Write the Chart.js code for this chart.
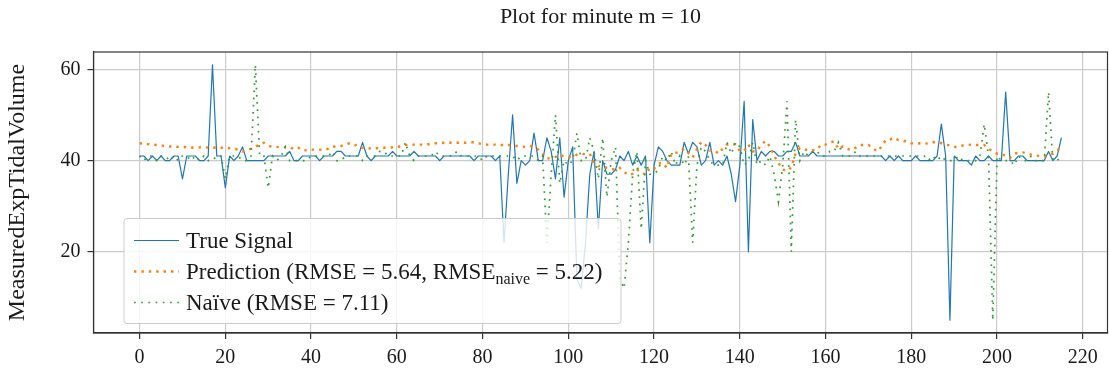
<!DOCTYPE html>
<html>
<head>
<meta charset="utf-8">
<script src="https://cdn.jsdelivr.net/npm/chart.js@4.4.1/dist/chart.umd.min.js"></script>
<style>
  html, body { margin: 0; padding: 0; background: #ffffff; }
  #wrap { width: 1109px; height: 378px; }
</style>
</head>
<body>
<div id="wrap"><canvas id="c" width="1109" height="378"></canvas></div>
<script>
// Measured expiratory tidal volume, one value per minute index
const trueSignal = [
  41, 41, 40, 41, 40, 41, 40, 40, 41, 41,
  36, 41, 41, 41, 40, 40, 41, 61, 41, 41,
  34, 41, 40, 41, 43, 40, 40, 40, 40, 40,
  41, 41, 41, 41, 41, 42, 40, 40, 41, 41,
  41, 41, 40, 41, 41, 41, 42, 42, 41, 41,
  41, 41, 44, 41, 40, 41, 41, 41, 41, 42,
  41, 41, 41, 41, 42, 41, 41, 41, 41, 41,
  40, 41, 41, 41, 41, 41, 41, 41, 40, 41,
  41, 41, 41, 40, 41, 22, 37, 50, 35, 40,
  39, 40, 46, 40, 40, 45, 42, 36, 45, 32,
  40, 43, 14, 12, 22, 37, 42, 25, 40, 37,
  37, 38, 41, 40, 42, 39, 41, 39, 41, 22,
  39, 43, 42, 40, 39, 39, 39, 44, 41.5, 44,
  43, 39, 40, 44, 39, 40, 39, 41, 37, 31,
  39, 53, 20, 49, 40, 42, 41, 42, 42, 41,
  41, 42, 42, 44, 41, 41, 41, 42, 41, 41,
  41, 41, 41, 41, 41, 41, 41, 41, 41, 41,
  41, 41, 41, 41, 40, 41, 40, 41, 40, 40,
  40, 41, 40, 40, 40, 40, 41, 48, 41, 5,
  41, 40, 40, 40, 39, 41, 40, 40, 41, 40,
  40, 40, 55, 40, 40, 41, 41, 40, 40, 40,
  40, 40, 42, 40, 41, 45
];

// Model forecast
const prediction = [
  43.8, 43.7, 43.6, 43.5, 43.4, 43.3, 43.2, 43.1, 43.1, 43.0,
  43.0, 42.9, 42.8, 42.9, 42.9, 42.8, 42.9, 42.8, 42.9, 42.8,
  42.9, 42.7, 42.6, 42.4, 42.0, 42.3, 42.6, 43.0, 43.6, 43.9,
  43.3, 43.0, 43.0, 42.9, 42.9, 43.0, 42.5, 42.8, 42.2, 42.3,
  42.4, 42.4, 42.4, 42.3, 42.6, 43.1, 43.0, 43.2, 43.5, 43.8,
  43.6, 43.0, 42.8, 42.8, 42.6, 42.7, 42.8, 42.8, 42.8, 42.9,
  42.9, 43.2, 43.4, 43.5, 43.5, 43.5, 43.5, 43.5, 43.7, 43.8,
  43.8, 43.9, 44.0, 43.8, 43.9, 43.9, 43.9, 44.0, 44.0, 43.8,
  43.6, 43.5, 43.5, 43.5, 43.4, 43.4, 43.4, 43.4, 43.2, 43.1,
  43.0, 43.2, 43.0, 42.4, 41.5, 40.4, 40.6, 40.8, 41.3, 40.9,
  40.7, 40.8, 41.3, 41.5, 41.4, 41.5, 39.5, 38.8, 38.8, 38.4,
  38.2, 38.0, 38.4, 37.5, 36.8, 37.1, 38.0, 37.5, 36.9, 38.4,
  38.2, 39.3, 39.5, 38.4, 41.5, 41.7, 41.9, 42.6, 41.7, 40.7,
  42.5, 44.1, 43.4, 42.2, 42.4, 41.5, 42.6, 43.5, 43.7, 43.5,
  42.1, 42.1, 43.5, 42.0, 42.1, 43.5, 44.3, 43.1, 41.0, 39.5,
  38.0, 37.7, 38.5, 41.5, 42.8, 42.5, 42.2, 42.3, 42.4, 43.5,
  43.5, 44.0, 44.2, 42.5, 43.1, 42.6, 42.3, 42.8, 43.4, 43.4,
  43.4, 42.8, 42.0, 43.0, 44.5, 44.6, 45.0, 44.5, 44.4, 44.1,
  43.8, 43.7, 43.8, 43.8, 43.7, 44.0, 44.0, 43.8, 43.5, 43.3,
  43.0, 43.0, 43.3, 43.4, 43.5, 43.4, 43.4, 43.4, 42.6, 42.0,
  41.5, 41.5, 41.0, 40.6, 41.5, 41.7, 41.8, 41.5, 41.3, 41.1,
  41.0, 40.9, 41.1, 41.5, 42.3, 42.6
];

// Naive forecast (last observed value ten minutes earlier)
const naive = [
  41, 40, 41, 41, 40, 41, 41, 40, 41, 40,
  41, 41, 40, 41, 40, 41, 40, 40, 41, 41,
  36, 41, 41, 41, 40, 40, 41, 61, 41, 41,
  34, 41, 40, 41, 43, 40, 40, 40, 40, 40,
  41, 41, 41, 41, 41, 42, 40, 40, 41, 41,
  41, 41, 40, 41, 41, 41, 42, 42, 41, 41,
  41, 41, 44, 41, 40, 41, 41, 41, 41, 42,
  41, 41, 41, 41, 42, 41, 41, 41, 41, 41,
  40, 41, 41, 41, 41, 41, 41, 41, 40, 41,
  41, 41, 41, 40, 41, 22, 37, 50, 35, 40,
  39, 40, 46, 40, 40, 45, 42, 36, 45, 32,
  40, 43, 14, 12, 22, 37, 42, 25, 40, 37,
  37, 38, 41, 40, 42, 39, 41, 39, 41, 22,
  39, 43, 42, 40, 39, 39, 39, 44, 41.5, 44,
  43, 39, 40, 44, 39, 40, 39, 41, 37, 31,
  39, 53, 20, 49, 40, 42, 41, 42, 42, 41,
  41, 42, 42, 44, 41, 41, 41, 42, 41, 41,
  41, 41, 41, 41, 41, 41, 41, 41, 41, 41,
  41, 41, 41, 41, 40, 41, 40, 41, 40, 40,
  40, 41, 40, 40, 40, 40, 41, 48, 41, 5,
  41, 40, 40, 40, 39, 41, 40, 40, 41, 40,
  40, 40, 55, 40, 40, 41
];

const xTicks = [0, 20, 40, 60, 80, 100, 120, 140, 160, 180, 200, 220];
const yTicks = [20, 40, 60];

const titleText = 'Plot for minute m = 10';
const yTitle = 'MeasuredExpTidalVolume';
// legend label parts: [main text, subscript, tail]
const legendLabels = [
  ['True Signal', '', ''],
  ['Prediction (RMSE = 5.64, RMSE', 'naive', ' = 5.22)'],
  ['Naïve (RMSE = 7.11)', '', '']
];

const FONT = '"Liberation Serif", "Times New Roman", serif';
const minutes = trueSignal.map((_, i) => i);
const toPoints = arr => arr.map((v, i) => ({ x: minutes[i], y: v }));

// x/y limits with a 5% margin around the data
const allY = trueSignal.concat(prediction, naive);
const yMinData = Math.min(...allY), yMaxData = Math.max(...allY);
const yPad = (yMaxData - yMinData) * 0.05;
const xPad = (minutes[minutes.length - 1] - minutes[0]) * 0.05;

const frame = {
  id: 'frame',
  afterDatasetsDraw(chart) {
    const { ctx, chartArea: a } = chart;
    ctx.save();
    ctx.strokeStyle = '#333333';
    ctx.lineWidth = 1.2;
    ctx.strokeRect(a.left, a.top, a.right - a.left, a.bottom - a.top);
    ctx.restore();
  }
};

const legendBox = {
  id: 'legendBox',
  afterDatasetsDraw(chart) {
    const { ctx, chartArea: a } = chart;
    const x0 = a.left + 30.5, y0 = a.top + 166.5, w = 497, h = 105;
    ctx.save();
    ctx.beginPath();
    if (ctx.roundRect) ctx.roundRect(x0, y0, w, h, 3); else ctx.rect(x0, y0, w, h);
    ctx.fillStyle = 'rgba(255,255,255,0.8)';
    ctx.fill();
    ctx.strokeStyle = '#cccccc';
    ctx.lineWidth = 1;
    ctx.stroke();

    const rowY = [y0 + 22, y0 + 53, y0 + 84];
    chart.data.datasets.forEach((ds, i) => {
      const y = rowY[i];
      ctx.save();
      ctx.strokeStyle = ds.borderColor;
      ctx.lineWidth = ds.borderWidth;
      ctx.setLineDash(ds.borderDash || []);
      ctx.lineCap = 'butt';
      ctx.beginPath();
      ctx.moveTo(x0 + 10, y);
      ctx.lineTo(x0 + 55, y);
      ctx.stroke();
      ctx.restore();

      const [main, sub, tail] = legendLabels[i];
      let tx = x0 + 62;
      ctx.fillStyle = '#1a1a1a';
      ctx.textBaseline = 'alphabetic';
      ctx.font = '23px ' + FONT;
      const base = y + 7;
      ctx.fillText(main, tx, base);
      tx += ctx.measureText(main).width;
      if (sub) {
        ctx.font = '16px ' + FONT;
        ctx.fillText(sub, tx, base + 5);
        tx += ctx.measureText(sub).width;
        ctx.font = '23px ' + FONT;
      }
      if (tail) ctx.fillText(tail, tx, base);
    });
    ctx.restore();
  }
};

new Chart(document.getElementById('c'), {
  type: 'line',
  data: {
    datasets: [
      {
        label: 'True Signal',
        data: toPoints(trueSignal),
        borderColor: '#1f77b4',
        borderWidth: 1.2,
        borderJoinStyle: 'round',
        pointRadius: 0,
        order: 3
      },
      {
        label: 'Prediction',
        data: toPoints(prediction),
        borderColor: '#ff7f0e',
        borderWidth: 2.4,
        borderDash: [2.4, 5.0],
        pointRadius: 0,
        order: 2
      },
      {
        label: 'Naïve',
        data: toPoints(naive),
        borderColor: '#2ca02c',
        borderWidth: 1.7,
        borderDash: [1.7, 5.5],
        pointRadius: 0,
        order: 1
      }
    ]
  },
  options: {
    responsive: false,
    animation: false,
    devicePixelRatio: 1,
    layout: { padding: { top: 0, right: 1.5, bottom: 0, left: 0 } },
    plugins: {
      legend: { display: false },
      tooltip: { enabled: false },
      title: {
        display: true,
        fullSize: false,
        text: titleText,
        color: '#1a1a1a',
        font: { family: FONT, size: 22, weight: 'normal' },
        padding: { top: 4, bottom: 21.6 }
      }
    },
    scales: {
      x: {
        type: 'linear',
        min: minutes[0] - xPad,
        max: minutes[minutes.length - 1] + xPad,
        afterBuildTicks: s => { s.ticks = xTicks.map(v => ({ value: v })); },
        afterFit: s => { s.height = 45; },
        grid: { color: '#cccccc', lineWidth: 1.2, tickColor: '#333333', tickLength: 6 },
        border: { display: true, color: '#333333', width: 1.2 },
        ticks: { color: '#1a1a1a', font: { family: FONT, size: 20 }, padding: 7, maxRotation: 0 }
      },
      y: {
        type: 'linear',
        min: yMinData - yPad,
        max: yMaxData + yPad,
        afterBuildTicks: s => { s.ticks = yTicks.map(v => ({ value: v })); },
        afterFit: s => { s.width = 93.5; },
        grid: { color: '#cccccc', lineWidth: 1.2, tickColor: '#333333', tickLength: 6 },
        border: { display: true, color: '#333333', width: 1.2 },
        ticks: { color: '#1a1a1a', font: { family: FONT, size: 20 }, padding: 7 },
        title: {
          display: true,
          text: yTitle,
          color: '#1a1a1a',
          font: { family: FONT, size: 24 },
          padding: { top: 3.5, bottom: 0 }
        }
      }
    }
  },
  plugins: [frame, legendBox]
});
</script>
</body>
</html>
